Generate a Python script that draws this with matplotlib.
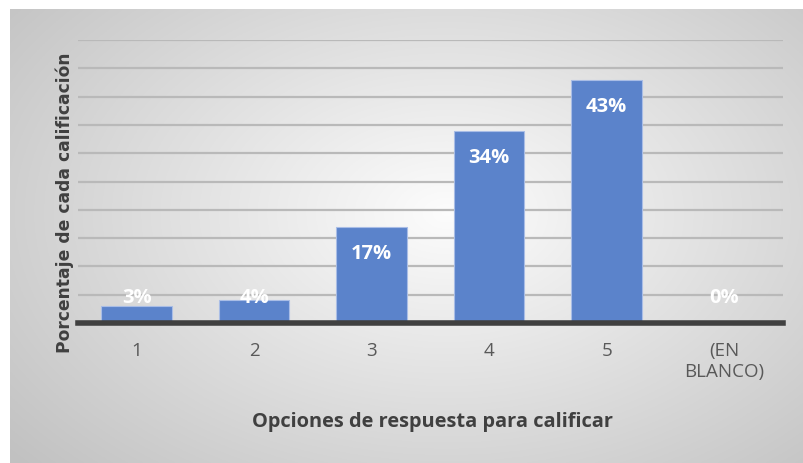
import numpy as np
import matplotlib
matplotlib.use('Agg')
import matplotlib.pyplot as plt

# porcentaje de respuestas por opción
categorias = ['1', '2', '3', '4', '5', '(EN\nBLANCO)']
porcentajes = [3, 4, 17, 34, 43, 0]
etiquetas = ['3%', '4%', '17%', '34%', '43%', '0%']

W, H = 804, 463
fig = plt.figure(figsize=(W / 100, H / 100), dpi=100)

# fondo: degradado radial gris, más claro hacia el centro
bg = fig.add_axes([10 / W, 0, 1 - 10 / W, 1 - 9 / H])
yy, xx = np.mgrid[0:1:300j, 0:1:500j]
r = np.sqrt(((xx - 0.55) / 0.75) ** 2 + ((yy - 0.55) / 0.85) ** 2)
g = np.clip(0.99 - 0.24 * r, 0.76, 1.0)
bg.imshow(np.dstack([g, g, g]), aspect='auto', extent=(0, 1, 0, 1), origin='lower')
bg.set_axis_off()

ax = fig.add_axes([78 / W, 1 - 323 / H, (783 - 78) / W, (323 - 40) / H])
ax.patch.set_alpha(0)
x = np.arange(len(categorias))
ax.bar(x, porcentajes, width=0.6, color='#5b83cb', edgecolor='#a9bde6',
       linewidth=0.8, zorder=3)
ax.set_xlim(-0.5, len(categorias) - 0.5)
ax.set_ylim(0, 50)
ax.set_yticks(np.arange(5, 51, 5))
ax.yaxis.grid(True, color='#b9b9b9', linewidth=1.6, zorder=0)
ax.tick_params(axis='y', length=0, labelleft=False)
ax.tick_params(axis='x', length=0, pad=14, labelsize=13.5, labelcolor='#595959')
ax.set_xticks(x)
ax.set_xticklabels(categorias, fontfamily='Open Sans', linespacing=1.2)
for s in ['top', 'right', 'left']:
    ax.spines[s].set_visible(False)
ax.spines['bottom'].set_color('#404040')
ax.spines['bottom'].set_linewidth(4)
ax.spines['bottom'].set_zorder(4)

for xi, v, t in zip(x, porcentajes, etiquetas):
    ax.text(xi, max(v - 4.8, 4.5), t, ha='center', va='center', color='white',
            fontsize=14.5, fontweight='bold', fontfamily='Open Sans', zorder=5)

fig.text(65 / W, 1 - 203 / H, 'Porcentaje de cada calificación', rotation=90,
         ha='center', va='center', fontsize=12.3, fontweight='bold',
         color='#404040', fontfamily='DejaVu Sans')
fig.text(433 / W, 1 - 422 / H, 'Opciones de respuesta para calificar',
         ha='center', va='center', fontsize=14.4, fontweight='bold',
         color='#404040', fontfamily='Open Sans')

fig.savefig('out.png', dpi=100)
